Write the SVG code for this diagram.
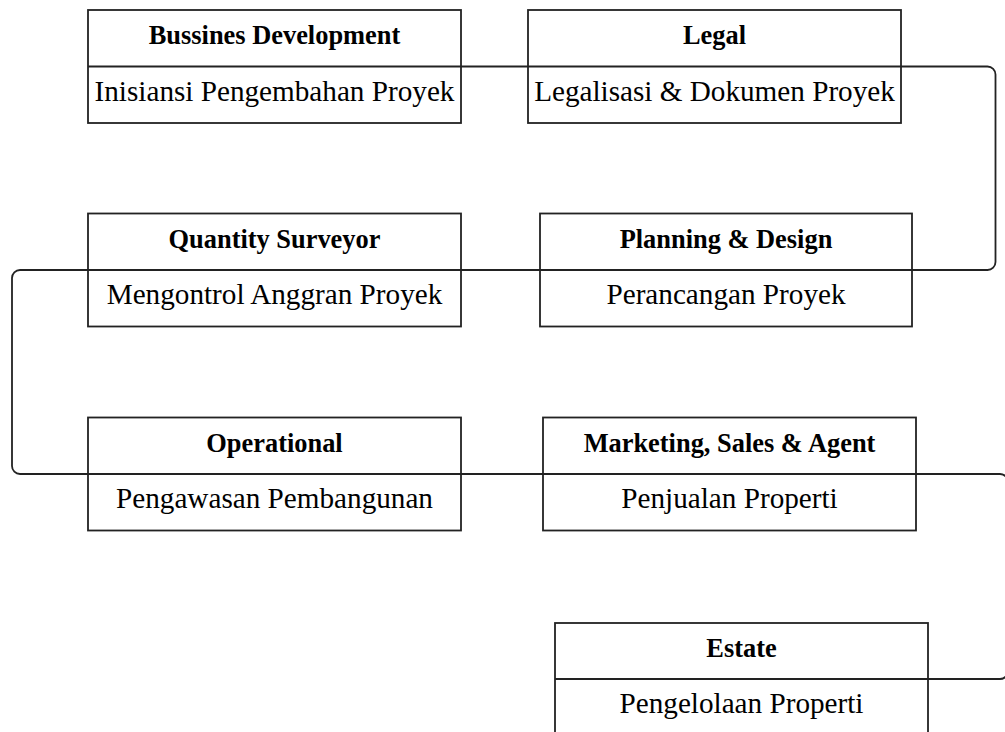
<svg xmlns="http://www.w3.org/2000/svg" width="1005" height="732" viewBox="0 0 1005 732">
<style>
.box{fill:#fff;stroke:#222;stroke-width:1.8}
.div{stroke:#222;stroke-width:1.8}
.h{font-family:"Liberation Serif","Times New Roman",serif;font-weight:bold;font-size:26.4px;text-anchor:middle;fill:#000}
.b{font-family:"Liberation Serif","Times New Roman",serif;font-size:29.2px;text-anchor:middle;fill:#000}
.c{fill:none;stroke:#222;stroke-width:1.8}
</style>
<rect width="1005" height="732" fill="#fff"/>
<g id="connectors">
<path class="c" d="M461,66.5 H528"/>
<path class="c" d="M901,66.5 H987.5 a8,8 0 0 1 8,8 V262 a8,8 0 0 1 -8,8 H912"/>
<path class="c" d="M540,270 H461"/>
<path class="c" d="M88,270 H20 a8,8 0 0 0 -8,8 V466 a8,8 0 0 0 8,8 H88"/>
<path class="c" d="M461,474 H543"/>
<path class="c" d="M916,474 H1000 a8,8 0 0 1 8,8 V671 a8,8 0 0 1 -8,8 H928"/>
</g>
<g id="bussines-development">
<rect class="box" x="88" y="10" width="373" height="113"/>
<line class="div" x1="88" y1="66.5" x2="461" y2="66.5"/>
<text class="h" x="274.5" y="44">Bussines Development</text>
<text class="b" x="274.5" y="100.5">Inisiansi Pengembahan Proyek</text>
</g>
<g id="legal">
<rect class="box" x="528" y="10" width="373" height="113"/>
<line class="div" x1="528" y1="66.5" x2="901" y2="66.5"/>
<text class="h" x="714.5" y="44">Legal</text>
<text class="b" x="714.5" y="100.5">Legalisasi &amp; Dokumen Proyek</text>
</g>
<g id="quantity-surveyor">
<rect class="box" x="88" y="213.5" width="373" height="113"/>
<line class="div" x1="88" y1="270" x2="461" y2="270"/>
<text class="h" x="274.5" y="247.5">Quantity Surveyor</text>
<text class="b" x="274.5" y="304">Mengontrol Anggran Proyek</text>
</g>
<g id="planning-design">
<rect class="box" x="540" y="213.5" width="372" height="113"/>
<line class="div" x1="540" y1="270" x2="912" y2="270"/>
<text class="h" x="726" y="247.5">Planning &amp; Design</text>
<text class="b" x="726" y="304">Perancangan Proyek</text>
</g>
<g id="operational">
<rect class="box" x="88" y="417.5" width="373" height="113"/>
<line class="div" x1="88" y1="474" x2="461" y2="474"/>
<text class="h" x="274.5" y="451.5">Operational</text>
<text class="b" x="274.5" y="508">Pengawasan Pembangunan</text>
</g>
<g id="marketing-sales-agent">
<rect class="box" x="543" y="417.5" width="373" height="113"/>
<line class="div" x1="543" y1="474" x2="916" y2="474"/>
<text class="h" x="729.5" y="451.5">Marketing, Sales &amp; Agent</text>
<text class="b" x="729.5" y="508">Penjualan Properti</text>
</g>
<g id="estate">
<rect class="box" x="555" y="623" width="373" height="113"/>
<line class="div" x1="555" y1="679" x2="928" y2="679"/>
<text class="h" x="741.5" y="657">Estate</text>
<text class="b" x="741.5" y="713">Pengelolaan Properti</text>
</g>
</svg>
